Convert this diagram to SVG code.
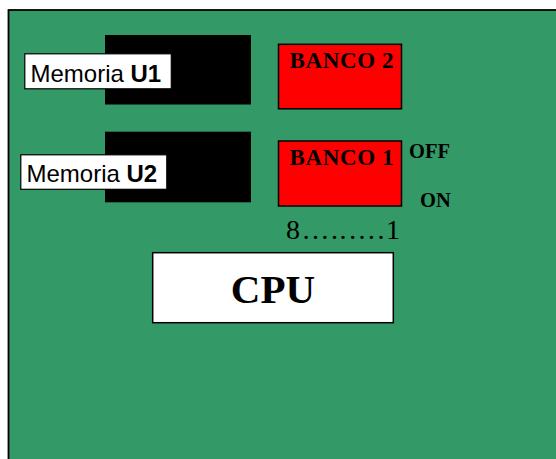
<svg xmlns="http://www.w3.org/2000/svg" width="556" height="459" viewBox="0 0 556 459">
<style>
.sans{font-family:"Liberation Sans",Arial,sans-serif;fill:#000}
.serif{font-family:"Liberation Serif","Times New Roman",serif;fill:#000}
.chip{fill:#000}
.label{fill:#fff;stroke:#000;stroke-width:1.2}
.bank{fill:#ff0000;stroke:#000;stroke-width:1.5}
</style>
<rect width="556" height="459" fill="#fff"/>
<g id="board">
<rect x="8.5" y="10" width="560" height="470" fill="#339966" stroke="#000" stroke-width="1.8"/>
</g>
<g id="connectors"></g>
<g id="memU1">
<rect class="chip" x="105" y="35" width="146" height="69.5"/>
<rect class="label" x="24.8" y="53.8" width="146.5" height="35"/>
<text class="sans" x="30.5" y="81.7" font-size="24">Memoria <tspan font-weight="bold">U1</tspan></text>
</g>
<g id="memU2">
<rect class="chip" x="105" y="131.7" width="146" height="70.6"/>
<rect class="label" x="20.8" y="154.8" width="146" height="34.5"/>
<text class="sans" x="26.5" y="181.7" font-size="24">Memoria <tspan font-weight="bold">U2</tspan></text>
</g>
<g id="banco2">
<rect class="bank" x="278.5" y="44.3" width="123" height="64.5"/>
<text class="serif" x="289.5" y="67.7" font-size="23" font-weight="bold" textLength="104">BANCO 2</text>
</g>
<g id="banco1">
<rect class="bank" x="278.5" y="141" width="123" height="65"/>
<text class="serif" x="289.5" y="165" font-size="23" font-weight="bold" textLength="104">BANCO 1</text>
<text class="serif" x="409" y="157.7" font-size="20.5" font-weight="bold">OFF</text>
<text class="serif" x="420" y="206.7" font-size="20.5" font-weight="bold">ON</text>
<text class="serif" x="286" y="239" font-size="28" textLength="114" lengthAdjust="spacing">8…..….1</text>
</g>
<g id="cpu">
<rect x="152.7" y="252.7" width="240.6" height="70" fill="#fff" stroke="#000" stroke-width="1.5"/>
<text class="serif" x="273" y="303.3" font-size="41" font-weight="bold" text-anchor="middle">CPU</text>
</g>
</svg>
